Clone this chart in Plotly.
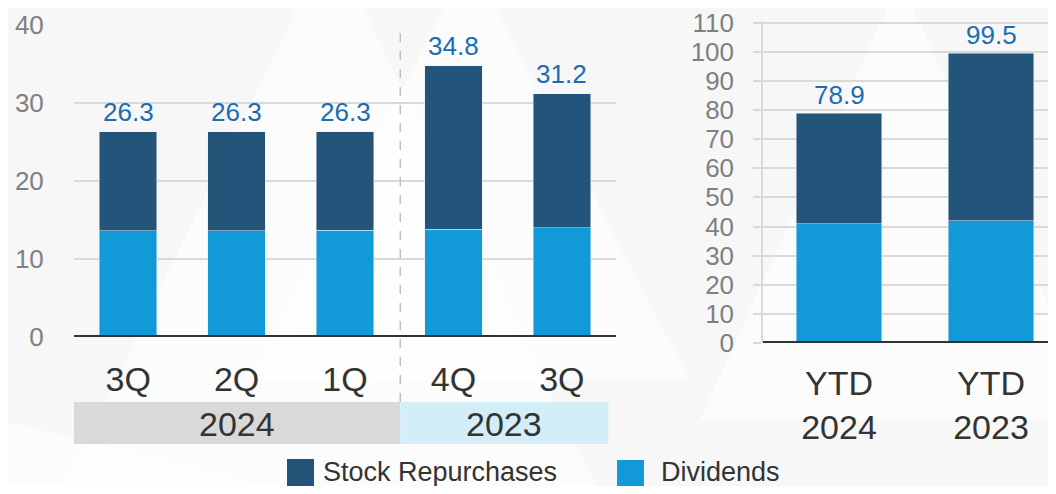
import plotly.graph_objects as go

# données
quarters = ['3Q', '2Q', '1Q', '4Q', '3Q']
quarter_years = ['2024', '2023']
dividends_q = [13.6, 13.6, 13.7, 13.8, 14.0]
repurchases_q = [12.7, 12.7, 12.6, 21.0, 17.2]
totals_q = [26.3, 26.3, 26.3, 34.8, 31.2]

ytd_labels = ['YTD<br>2024', 'YTD<br>2023']
dividends_ytd = [41.0, 41.9]
repurchases_ytd = [37.9, 57.6]
totals_ytd = [78.9, 99.5]

DARK = '#23547a'
LIGHT = '#1299d8'
LABEL_BLUE = '#1a6db5'
TXT = '#333333'
GRID = '#d9d9d9'

# la page ajoute une marge de 8 px autour de la figure
OFF = 8
W, H = 1056 - 2 * OFF, 494 - 2 * OFF


def X(x):
    return (x - OFF) / W


def Y(y):
    return 1 - (y - OFF) / H


fig = go.Figure()

q_pos = list(range(len(quarters)))
y_pos = list(range(len(ytd_labels)))

# graphique trimestriel (gauche)
fig.add_trace(go.Bar(x=q_pos, y=dividends_q, marker_color=LIGHT, width=0.53,
                     name='Dividends', xaxis='x', yaxis='y'))
fig.add_trace(go.Bar(x=q_pos, y=repurchases_q, marker_color=DARK, width=0.53,
                     name='Stock Repurchases', xaxis='x', yaxis='y'))

# graphique cumul annuel (droite)
fig.add_trace(go.Bar(x=y_pos, y=dividends_ytd, marker_color=LIGHT, width=0.56,
                     name='Dividends', xaxis='x2', yaxis='y2'))
fig.add_trace(go.Bar(x=y_pos, y=repurchases_ytd, marker_color=DARK, width=0.56,
                     name='Stock Repurchases', xaxis='x2', yaxis='y2'))

shapes = []
# triangles décoratifs en fond
for pts in [[(330, -60), (60, 494), (600, 494)], [(470, -40), (250, 380), (690, 380)],
            [(900, -20), (700, 420), (1100, 420)], [(0, 420), (-200, 494), (300, 494)]]:
    path = 'M ' + ' L '.join(f'{X(x)},{Y(y)}' for x, y in pts) + ' Z'
    shapes.append(dict(type='path', path=path, xref='paper', yref='paper',
                       fillcolor='rgba(255,255,255,0.6)', line=dict(width=0), layer='below'))

# bandes des années
shapes.append(dict(type='rect', xref='x', yref='paper', x0=-0.5, x1=2.51, y0=Y(444), y1=Y(402),
                   fillcolor='#d9d9d9', line=dict(width=0), layer='below'))
shapes.append(dict(type='rect', xref='x', yref='paper', x0=2.51, x1=4.43, y0=Y(444), y1=Y(402),
                   fillcolor='#d3edf9', line=dict(width=0), layer='below'))
# séparateur pointillé
shapes.append(dict(type='line', xref='x', yref='paper', x0=2.51, x1=2.51, y0=Y(402), y1=Y(30),
                   line=dict(color='#c0c0c0', width=1.5, dash='dash')))
# lignes de base épaisses
shapes.append(dict(type='line', xref='x domain', yref='y', x0=0, x1=1, y0=0, y1=0,
                   line=dict(color=TXT, width=4)))
shapes.append(dict(type='line', xref='x2 domain', yref='y2', x0=0, x1=1, y0=0, y1=0,
                   line=dict(color=TXT, width=4)))
# légende manuelle
shapes.append(dict(type='rect', xref='paper', yref='paper', x0=X(287), x1=X(314), y0=Y(486), y1=Y(459),
                   fillcolor=DARK, line=dict(width=0)))
shapes.append(dict(type='rect', xref='paper', yref='paper', x0=X(617), x1=X(644), y0=Y(486), y1=Y(460),
                   fillcolor=LIGHT, line=dict(width=0)))

annotations = [
    dict(x=1, y=Y(424), xref='x', yref='paper', text=quarter_years[0], showarrow=False,
         yanchor='middle', font=dict(size=34, color=TXT)),
    dict(x=3.47, y=Y(424), xref='x', yref='paper', text=quarter_years[1], showarrow=False,
         yanchor='middle', font=dict(size=34, color=TXT)),
    dict(x=X(321), y=Y(472), xref='paper', yref='paper', text='Stock Repurchases', showarrow=False,
         xanchor='left', yanchor='middle', font=dict(size=27, color=TXT)),
    dict(x=X(659), y=Y(472), xref='paper', yref='paper', text='Dividends', showarrow=False,
         xanchor='left', yanchor='middle', font=dict(size=27, color=TXT)),
]
# totaux au-dessus des barres
for xv, v in zip(q_pos, totals_q):
    annotations.append(dict(x=xv, y=v, xref='x', yref='y', text=f'{v:.1f}', showarrow=False,
                            yanchor='middle', yshift=20, font=dict(size=26, color=LABEL_BLUE)))
for xv, v in zip(y_pos, totals_ytd):
    annotations.append(dict(x=xv, y=v, xref='x2', yref='y2', text=f'{v:.1f}', showarrow=False,
                            yanchor='middle', yshift=18, font=dict(size=26, color=LABEL_BLUE)))

fig.update_layout(
    width=W, height=H,
    barmode='stack',
    paper_bgcolor='#f7f7f7',
    plot_bgcolor='rgba(0,0,0,0)',
    margin=dict(l=0, r=0, t=0, b=0),
    font=dict(family='Liberation Sans, Arial, sans-serif'),
    showlegend=False,
    shapes=shapes,
    annotations=annotations,
    xaxis=dict(domain=[X(74), X(616)], range=[-0.5, 4.5], tickmode='array',
               tickvals=q_pos, ticktext=quarters, showgrid=False, zeroline=False,
               ticks='outside', ticklen=12, tickcolor='rgba(0,0,0,0)', automargin=False,
               tickfont=dict(size=34, color=TXT), anchor='y', fixedrange=True),
    yaxis=dict(domain=[Y(337), Y(25)], range=[0, 40], tickvals=[0, 10, 20, 30, 40],
               showgrid=True, gridcolor=GRID, gridwidth=1.5, zeroline=False,
               tickfont=dict(size=26, color='#808080'), ticks='outside', ticklen=24,
               tickcolor='rgba(0,0,0,0)', automargin=False, ticklabeloverflow='allow', anchor='x'),
    xaxis2=dict(domain=[X(763), 1.0], range=[-0.5, -0.5 + (1048 - 763) / 152], tickmode='array',
                tickvals=y_pos, ticktext=ytd_labels, showgrid=False, zeroline=False,
                ticks='outside', ticklen=10, tickcolor='rgba(0,0,0,0)', automargin=False,
                tickfont=dict(size=34, color=TXT), anchor='y2'),
    yaxis2=dict(domain=[Y(343), Y(21.2)], range=[0, 110.5], tickvals=list(range(0, 111, 10)),
                showgrid=True, gridcolor=GRID, gridwidth=1.5, zeroline=False,
                showline=True, linecolor=GRID, linewidth=1.5,
                ticks='outside', ticklen=8, tickcolor=GRID, tickwidth=1.5,
                ticklabelstandoff=14, automargin=False, ticklabeloverflow='allow',
                tickfont=dict(size=26, color='#808080'), anchor='x2'),
)

fig.write_html("out.html")
